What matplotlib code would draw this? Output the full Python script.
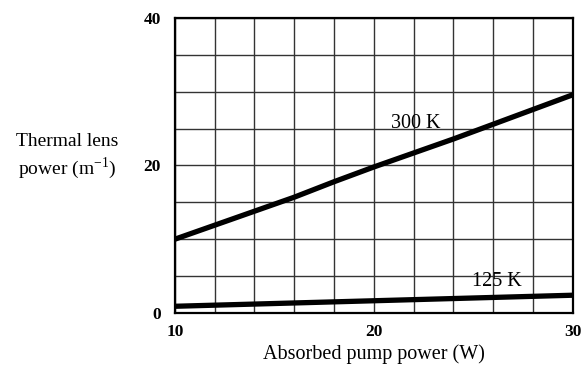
import matplotlib.pyplot as plt
import numpy as np

# absorbed pump power (W)
pump_300 = [10, 12, 14, 16, 18, 20, 22, 24, 26, 28, 30]
lens_300 = [10.0, 11.9, 13.8, 15.7, 17.8, 19.8, 21.7, 23.6, 25.6, 27.6, 29.6]
pump_125 = [10, 30]
lens_125 = [0.9, 2.4]

plt.rcParams['font.family'] = ['Liberation Serif', 'DejaVu Serif']

fig = plt.figure(figsize=(5.81, 3.69), dpi=100)
ax = fig.add_axes([0.301, 0.152, 0.685, 0.799])

ax.plot(pump_300, lens_300, color='black', lw=3.8, solid_capstyle='butt', zorder=3)
ax.plot(pump_125, lens_125, color='black', lw=3.8, solid_capstyle='butt', zorder=3)

ax.set_xlim(10, 30)
ax.set_ylim(0, 40)
ax.set_xticks([10, 20, 30])
ax.set_yticks([0, 20, 40])
ax.set_xticks(np.arange(10, 31, 2), minor=True)
ax.set_yticks(np.arange(0, 41, 5), minor=True)
ax.grid(which='both', color='#333333', lw=1.0)
ax.tick_params(which='both', length=0, labelsize=12.5)
ax.tick_params(axis='x', pad=8)
ax.tick_params(axis='y', pad=10)
for lbl in ax.get_xticklabels() + ax.get_yticklabels():
    lbl.set_fontweight('bold')
for s in ax.spines.values():
    s.set_linewidth(1.6)

ax.text(22.1, 25.7, '300 K', fontsize=14.5, ha='center', va='center')
ax.text(26.2, 4.2, '125 K', fontsize=14.5, ha='center', va='center')

ax.set_xlabel('Absorbed pump power (W)', fontsize=14.5, labelpad=3)
fig.text(0.116, 0.575, 'Thermal lens\npower (m$^{\\mathregular{-1}}$)', fontsize=14,
         ha='center', va='center', linespacing=1.25)

fig.savefig('out.png', dpi=100)
